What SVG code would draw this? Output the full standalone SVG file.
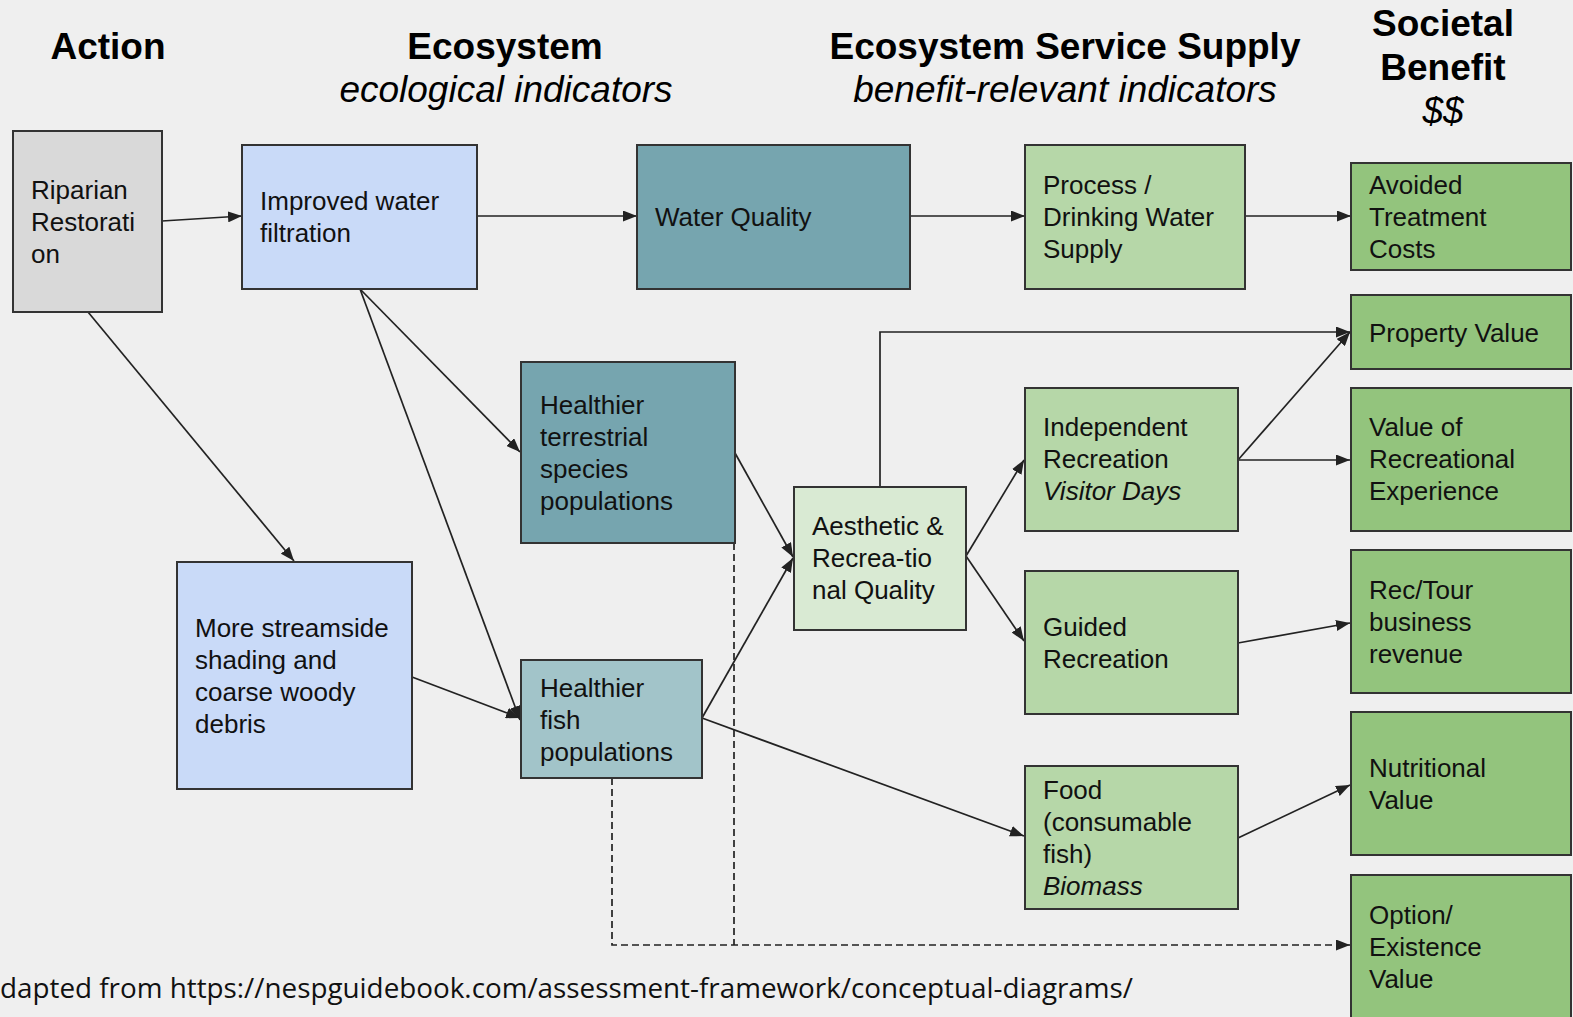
<svg xmlns="http://www.w3.org/2000/svg" width="1573" height="1017" viewBox="0 0 1573 1017">
<defs>
<marker id="arr" markerUnits="userSpaceOnUse" markerWidth="15" markerHeight="11" refX="14" refY="5.5" orient="auto">
<path d="M0,0 L14,5.5 L0,11 z" fill="#222"/>
</marker>
<style>
.hdr{font-family:"Liberation Sans",Arial,sans-serif;font-size:37px;font-weight:bold;fill:#000;text-anchor:middle}
.sub{font-family:"Liberation Sans",Arial,sans-serif;font-size:37px;font-style:italic;fill:#000;text-anchor:middle}
.box{stroke:#333;stroke-width:2}
.t{font-family:"Liberation Sans",Arial,sans-serif;font-size:26px;fill:#111}
.i{font-style:italic}
.c{fill:none;stroke:#222;stroke-width:1.7}
.a{marker-end:url(#arr)}
.d{stroke-dasharray:7,4}
.gray{fill:#d9d9d9}
.blue{fill:#c9daf8}
.teal{fill:#76a5af}
.lteal{fill:#a2c4c9}
.lg{fill:#b6d7a8}
.vlg{fill:#d9ead3}
.g{fill:#93c47d}
</style>
</defs>
<rect x="0" y="0" width="1573" height="1017" fill="#efefef"/>

<g id="headers">
<text class="hdr" x="108" y="59">Action</text>
<text class="hdr" x="505" y="59">Ecosystem</text>
<text class="sub" x="506" y="102">ecological indicators</text>
<text class="hdr" x="1065" y="59">Ecosystem Service Supply</text>
<text class="sub" x="1065" y="102">benefit-relevant indicators</text>
<text class="hdr" x="1443" y="36">Societal</text>
<text class="hdr" x="1443" y="80">Benefit</text>
<text class="sub" x="1443" y="123">$$</text>
</g>

<g id="connectors">
<line class="c a" x1="162" y1="221" x2="242" y2="216"/>
<line class="c a" x1="88" y1="312" x2="294" y2="561"/>
<line class="c a" x1="477" y1="216" x2="637" y2="216"/>
<line class="c a" x1="910" y1="216" x2="1025" y2="216"/>
<line class="c a" x1="1245" y1="216" x2="1351" y2="216"/>
<line class="c a" x1="360" y1="289" x2="520" y2="452"/>
<line class="c a" x1="360" y1="289" x2="520" y2="720"/>
<line class="c a" x1="412" y1="677" x2="520" y2="718"/>
<line class="c a" x1="735" y1="453" x2="793" y2="557"/>
<line class="c a" x1="702" y1="718" x2="793" y2="558"/>
<line class="c a" x1="702" y1="718" x2="1024" y2="836"/>
<polyline class="c a" points="880,487 880,332 1350,332"/>
<line class="c a" x1="966" y1="556" x2="1024" y2="460"/>
<line class="c a" x1="966" y1="556" x2="1024" y2="641"/>
<line class="c a" x1="1238" y1="460" x2="1350" y2="332"/>
<line class="c a" x1="1238" y1="460" x2="1350" y2="460"/>
<line class="c a" x1="1238" y1="643" x2="1350" y2="623"/>
<line class="c a" x1="1238" y1="838" x2="1350" y2="785"/>
<polyline class="c d a" points="612,778 612,945 1350,945"/>
<line class="c d" x1="734" y1="543" x2="734" y2="945"/>
</g>

<g id="riparian">
<rect class="box gray" x="13" y="131" width="149" height="181"/>
<text class="t" x="31" y="199">Riparian</text>
<text class="t" x="31" y="231">Restorati</text>
<text class="t" x="31" y="263">on</text>
</g>

<g id="filtration">
<rect class="box blue" x="242" y="145" width="235" height="144"/>
<text class="t" x="260" y="210">Improved water</text>
<text class="t" x="260" y="242">filtration</text>
</g>

<g id="waterquality">
<rect class="box teal" x="637" y="145" width="273" height="144"/>
<text class="t" x="655" y="226">Water Quality</text>
</g>

<g id="drinking">
<rect class="box lg" x="1025" y="145" width="220" height="144"/>
<text class="t" x="1043" y="194">Process /</text>
<text class="t" x="1043" y="226">Drinking Water</text>
<text class="t" x="1043" y="258">Supply</text>
</g>

<g id="avoided">
<rect class="box g" x="1351" y="163" width="220" height="107"/>
<text class="t" x="1369" y="194">Avoided</text>
<text class="t" x="1369" y="226">Treatment</text>
<text class="t" x="1369" y="258">Costs</text>
</g>

<g id="property">
<rect class="box g" x="1351" y="295" width="220" height="74"/>
<text class="t" x="1369" y="342">Property Value</text>
</g>

<g id="terrestrial">
<rect class="box teal" x="521" y="362" width="214" height="181"/>
<text class="t" x="540" y="414">Healthier</text>
<text class="t" x="540" y="446">terrestrial</text>
<text class="t" x="540" y="478">species</text>
<text class="t" x="540" y="510">populations</text>
</g>

<g id="aesthetic">
<rect class="box vlg" x="794" y="487" width="172" height="143"/>
<text class="t" x="812" y="535">Aesthetic &amp;</text>
<text class="t" x="812" y="567">Recrea-tio</text>
<text class="t" x="812" y="599">nal Quality</text>
</g>

<g id="independent">
<rect class="box lg" x="1025" y="388" width="213" height="143"/>
<text class="t" x="1043" y="436">Independent</text>
<text class="t" x="1043" y="468">Recreation</text>
<text class="t i" x="1043" y="500">Visitor Days</text>
</g>

<g id="recvalue">
<rect class="box g" x="1351" y="388" width="220" height="143"/>
<text class="t" x="1369" y="436">Value of</text>
<text class="t" x="1369" y="468">Recreational</text>
<text class="t" x="1369" y="500">Experience</text>
</g>

<g id="streamside">
<rect class="box blue" x="177" y="562" width="235" height="227"/>
<text class="t" x="195" y="637">More streamside</text>
<text class="t" x="195" y="669">shading and</text>
<text class="t" x="195" y="701">coarse woody</text>
<text class="t" x="195" y="733">debris</text>
</g>

<g id="fish">
<rect class="box lteal" x="521" y="660" width="181" height="118"/>
<text class="t" x="540" y="697">Healthier</text>
<text class="t" x="540" y="729">fish</text>
<text class="t" x="540" y="761">populations</text>
</g>

<g id="guided">
<rect class="box lg" x="1025" y="571" width="213" height="143"/>
<text class="t" x="1043" y="636">Guided</text>
<text class="t" x="1043" y="668">Recreation</text>
</g>

<g id="rectour">
<rect class="box g" x="1351" y="550" width="220" height="143"/>
<text class="t" x="1369" y="599">Rec/Tour</text>
<text class="t" x="1369" y="631">business</text>
<text class="t" x="1369" y="663">revenue</text>
</g>

<g id="food">
<rect class="box lg" x="1025" y="766" width="213" height="143"/>
<text class="t" x="1043" y="799">Food</text>
<text class="t" x="1043" y="831">(consumable</text>
<text class="t" x="1043" y="863">fish)</text>
<text class="t i" x="1043" y="895">Biomass</text>
</g>

<g id="nutritional">
<rect class="box g" x="1351" y="712" width="220" height="143"/>
<text class="t" x="1369" y="777">Nutritional</text>
<text class="t" x="1369" y="809">Value</text>
</g>

<g id="option">
<rect class="box g" x="1351" y="875" width="220" height="150"/>
<text class="t" x="1369" y="924">Option/</text>
<text class="t" x="1369" y="956">Existence</text>
<text class="t" x="1369" y="988">Value</text>
</g>

<g id="caption">
<text x="0" y="998" font-family="'Open Sans','Liberation Sans',sans-serif" font-size="28" fill="#111" textLength="1133" lengthAdjust="spacingAndGlyphs">dapted from https://nespguidebook.com/assessment-framework/conceptual-diagrams/</text>
</g>
</svg>
